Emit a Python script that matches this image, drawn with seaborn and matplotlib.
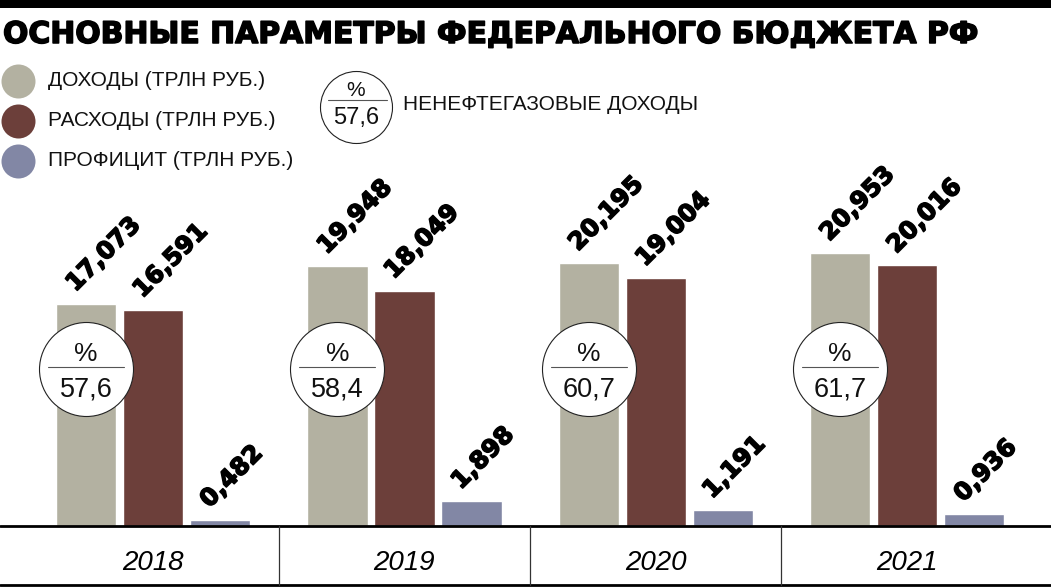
import pandas as pd
import matplotlib.pyplot as plt
import matplotlib.patheffects as pe
import seaborn as sns

# data
years = ['2018', '2019', '2020', '2021']
series = ['ДОХОДЫ (ТРЛН РУБ.)', 'РАСХОДЫ (ТРЛН РУБ.)', 'ПРОФИЦИТ (ТРЛН РУБ.)']
revenue = [17.073, 19.948, 20.195, 20.953]
spending = [16.591, 18.049, 19.004, 20.016]
surplus = [0.482, 1.898, 1.191, 0.936]
non_oil_share = [57.6, 58.4, 60.7, 61.7]
colors = ['#b3b1a1', '#6c3f3a', '#8287a5']
title = 'ОСНОВНЫЕ ПАРАМЕТРЫ ФЕДЕРАЛЬНОГО БЮДЖЕТА РФ'
share_label = 'НЕНЕФТЕГАЗОВЫЕ ДОХОДЫ'

df = pd.DataFrame({
    'year': years * 3,
    'series': [s for s in series for _ in years],
    'value': revenue + spending + surplus,
})

sns.set_theme(style='white')
plt.rcParams['font.family'] = ['Liberation Sans', 'DejaVu Sans']

# heavier look for the bold texts
heavy = [pe.withStroke(linewidth=1.1, foreground='black')]

W, H = 1051, 588
fig = plt.figure(figsize=(W / 100, H / 100), dpi=100)
base_px = 526
px_per_unit = 13.03
ax = fig.add_axes([0, (H - base_px) / H, 1, base_px / H])

sns.barplot(data=df, x='year', y='value', hue='series', hue_order=series,
            palette=colors, width=0.8, gap=0.1, saturation=1, legend=False,
            ax=ax, zorder=2)
ax.set_xlim(-0.609, 3.573)
ax.set_ylim(0, base_px / px_per_unit)
ax.set_axis_off()

# rotated value labels
for cont in ax.containers:
    for bar in cont:
        h = bar.get_height()
        ax.annotate(f'{h:.3f}'.replace('.', ','), xy=(bar.get_x(), h),
                    xytext=(14, 8), textcoords='offset points',
                    rotation=45, rotation_mode='anchor', ha='left', va='baseline',
                    fontsize=17.5, fontweight='bold', family='DejaVu Sans',
                    color='black', path_effects=heavy)

# circles with non-oil share over revenue bars
circle_y = (base_px - 369) / px_per_unit
half = 38 / 251.3
for bar, share in zip(ax.containers[0], non_oil_share):
    cx = bar.get_x() + bar.get_width() / 2
    ax.scatter([cx], [circle_y], s=(94 * 0.72) ** 2, facecolor='white',
               edgecolor='#222222', linewidth=0.8, zorder=5)
    ax.plot([cx - half, cx + half], [circle_y + 0.15, circle_y + 0.15],
            color='#555555', lw=0.8, zorder=6)
    ax.annotate('%', xy=(cx, circle_y), xytext=(0, 5.5), textcoords='offset points',
                ha='center', va='baseline', fontsize=19, color='#111111', zorder=7)
    ax.annotate(f'{share:.1f}'.replace('.', ','), xy=(cx, circle_y), xytext=(0, -20),
                textcoords='offset points', ha='center', va='baseline',
                fontsize=19.5, color='#111111', zorder=7)

# decoration layer in pixel coordinates
deco = fig.add_axes([0, 0, 1, 1], zorder=10)
deco.set_xlim(0, W)
deco.set_ylim(H, 0)
deco.set_axis_off()
deco.patch.set_alpha(0)

deco.fill_between([0, W], 0, 8, color='black', lw=0)
deco.text(3, 43, title, fontsize=21.5, fontweight='bold', family='DejaVu Sans',
          ha='left', va='baseline', color='black', path_effects=heavy)

for i, (lab, col) in enumerate(zip(series, colors)):
    y = 81 + 40 * i
    deco.scatter([18], [y], s=(34 * 0.72) ** 2, color=col, lw=0)
    deco.text(48, y, lab, fontsize=15, ha='left', va='center', color='#111111')

deco.scatter([356], [107], s=(72 * 0.72) ** 2, facecolor='white',
             edgecolor='#222222', linewidth=0.8)
deco.plot([328, 387], [100, 100], color='#555555', lw=0.8)
deco.text(356, 96, '%', fontsize=15, ha='center', va='baseline', color='#111111')
deco.text(356, 124, f'{non_oil_share[0]:.1f}'.replace('.', ','), fontsize=17,
          ha='center', va='baseline', color='#111111')
deco.text(403, 105, share_label, fontsize=15, ha='left', va='center', color='#111111')

# year row
deco.plot([0, W], [base_px, base_px], color='black', lw=2)
deco.plot([0, W], [585, 585], color='black', lw=2)
for x in [279, 530, 781]:
    deco.plot([x, x], [base_px, 585], color='#333333', lw=0.9)
for i, y in enumerate(years):
    deco.text(153 + 251.3 * i, 570, y, fontsize=20, style='italic',
              ha='center', va='baseline', color='black')

fig.savefig('out.png', dpi=100)
